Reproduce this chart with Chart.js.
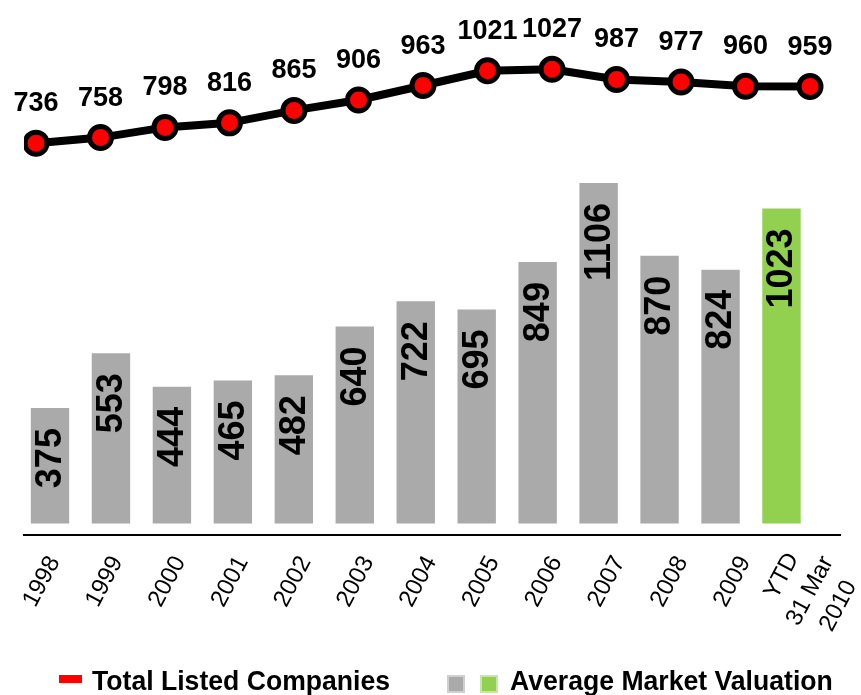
<!DOCTYPE html>
<html>
<head>
<meta charset="utf-8">
<script src="https://cdn.jsdelivr.net/npm/chart.js@4/dist/chart.umd.min.js"></script>
<style>
  html, body { margin: 0; padding: 0; background: #fff; }
  #wrap { width: 861px; height: 695px; position: relative; }
</style>
</head>
<body>
<div id="wrap"><canvas id="c" width="861" height="695"></canvas></div>
<script>
const categories = ['1998','1999','2000','2001','2002','2003','2004','2005','2006','2007','2008','2009',['YTD','31 Mar','2010']];
const listedCompanies = [736,758,798,816,865,906,963,1021,1027,987,977,960,959];
const marketValuation = [375,553,444,465,482,640,722,695,849,1106,870,824,1023];
const seriesNames = ['Total Listed Companies','Average Market Valuation'];

const GREY = '#AAAAAA', GREEN = '#92D050', RED = '#FF0000';
const FONT = '"Liberation Sans", Arial, sans-serif';

const valueLabels = {
  id: 'valueLabels',
  afterDatasetsDraw(chart) {
    const ctx = chart.ctx;
    ctx.save();
    ctx.fillStyle = '#000';
    // line labels
    const lm = chart.getDatasetMeta(0);
    ctx.font = 'bold 27px ' + FONT;
    ctx.textAlign = 'center';
    ctx.textBaseline = 'alphabetic';
    lm.data.forEach((pt, i) => {
      ctx.fillText(String(listedCompanies[i]), pt.x, pt.y - 32);
    });
    // bar labels
    const bm = chart.getDatasetMeta(1);
    ctx.font = 'bold 36px ' + FONT;
    bm.data.forEach((bar, i) => {
      ctx.save();
      ctx.translate(bar.x, bar.y + 20);
      ctx.rotate(-Math.PI / 2);
      ctx.textAlign = 'right';
      ctx.textBaseline = 'middle';
      ctx.fillText(String(marketValuation[i]), 0, 1);
      ctx.restore();
    });
    ctx.restore();
  }
};

const axisLabels = {
  id: 'axisLabels',
  afterDraw(chart) {
    const ctx = chart.ctx;
    const xs = chart.scales.x;
    const ang = 62 * Math.PI / 180;
    const lh = 32;
    ctx.save();
    ctx.fillStyle = '#000';
    ctx.font = '24px ' + FONT;
    ctx.textBaseline = 'middle';
    categories.forEach((c, i) => {
      const lines = Array.isArray(c) ? c : [c];
      const n = lines.length;
      const tx = xs.getPixelForValue(i);
      ctx.save();
      ctx.translate(tx - 1 + 10 * (n - 1), xs.top + 23);
      ctx.rotate(-ang);
      if (n === 1) {
        ctx.textAlign = 'right';
        ctx.fillText(lines[0], 0, 0);
      } else {
        const w = Math.max(...lines.map(l => ctx.measureText(l).width));
        ctx.textAlign = 'center';
        lines.forEach((l, k) => {
          ctx.fillText(l, -w / 2, (k - (n - 1) / 2) * lh);
        });
      }
      ctx.restore();
    });
    ctx.restore();
  }
};

const customLegend = {
  id: 'customLegend',
  afterDraw(chart) {
    const ctx = chart.ctx;
    ctx.save();
    ctx.fillStyle = RED;
    ctx.fillRect(59, 675, 23, 8);
    ctx.fillStyle = '#000';
    ctx.font = 'bold 28px ' + FONT;
    ctx.textAlign = 'left';
    ctx.textBaseline = 'alphabetic';
    ctx.save();
    ctx.translate(92, 690);
    ctx.scale(0.95, 1);
    ctx.fillText(seriesNames[0], 0, 0);
    ctx.restore();
    ctx.fillStyle = '#D0D0D0';
    ctx.fillRect(447, 675, 18, 18);
    ctx.fillStyle = GREY;
    ctx.fillRect(449, 677, 14, 14);
    ctx.fillStyle = '#C8E6A8';
    ctx.fillRect(480, 675, 18, 18);
    ctx.fillStyle = GREEN;
    ctx.fillRect(482, 677, 14, 14);
    ctx.fillStyle = '#000';
    ctx.save();
    ctx.translate(510, 690);
    ctx.scale(0.95, 1);
    ctx.fillText(seriesNames[1], 0, 0);
    ctx.restore();
    ctx.restore();
  }
};

new Chart(document.getElementById('c'), {
  type: 'bar',
  data: {
    labels: categories.map(c => Array.isArray(c) ? c.join(' ') : c),
    datasets: [
      {
        type: 'line',
        label: seriesNames[0],
        data: listedCompanies.map((v, i) => ({x: i, y: v})),
        xAxisID: 'x2',
        yAxisID: 'y2',
        borderColor: '#000',
        borderWidth: 8,
        pointRadius: 11,
        pointBorderWidth: 5,
        pointBackgroundColor: RED,
        pointBorderColor: '#000',
        tension: 0,
        order: 0
      },
      {
        type: 'bar',
        label: seriesNames[1],
        data: marketValuation.map((v, i) => ({x: i, y: v})),
        xAxisID: 'xb',
        yAxisID: 'y',
        backgroundColor: marketValuation.map((v, i) => i === marketValuation.length - 1 ? GREEN : GREY),
        grouped: false,
        categoryPercentage: 1,
        barPercentage: 0.656,
        order: 1
      }
    ]
  },
  options: {
    responsive: false,
    animation: false,
    devicePixelRatio: 1,
    layout: { padding: { left: 24, right: 21, top: 20, bottom: 0 } },
    plugins: { legend: { display: false }, tooltip: { enabled: false } },
    scales: {
      x: {
        type: 'category',
        offset: true,
        grid: { display: false, drawTicks: false },
        border: { display: true, color: '#000', width: 2 },
        afterFit(scale) { scale.height = 160; },
        ticks: { display: false }
      },
      xb: {
        type: 'linear',
        display: false,
        min: -0.4265,
        max: 12.96,
        offset: false
      },
      x2: {
        type: 'linear',
        display: false,
        min: -0.186,
        max: 12.465,
        offset: false
      },
      y: {
        type: 'linear',
        display: false,
        min: -37,
        max: 1635
      },
      y2: {
        type: 'linear',
        display: false,
        min: -807,
        max: 1221
      }
    }
  },
  plugins: [valueLabels, axisLabels, customLegend]
});
</script>
</body>
</html>
